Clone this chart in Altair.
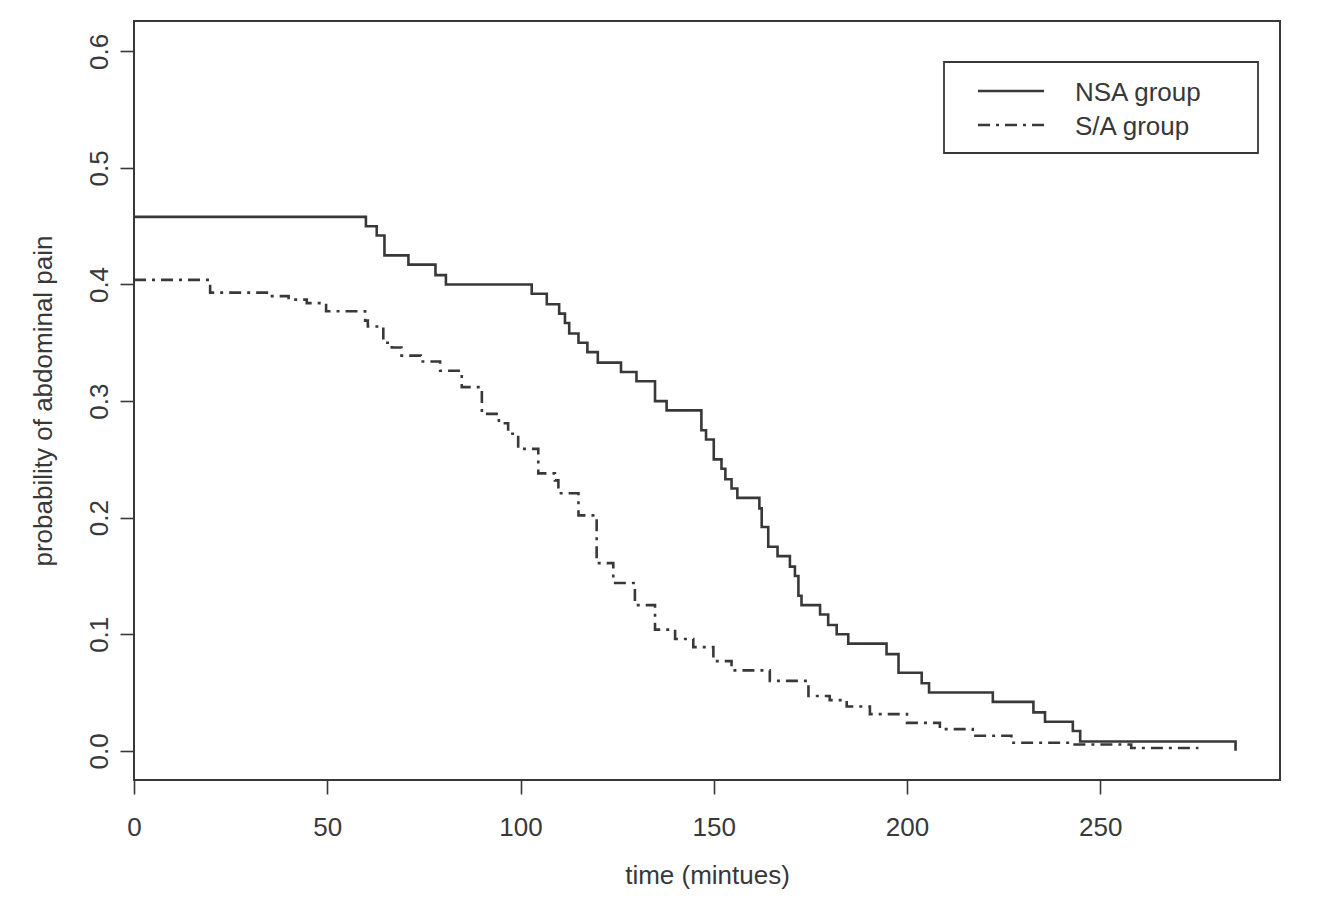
import altair as alt
import pandas as pd

groups = ["NSA group", "S/A group"]

nsa_time = [0, 60, 62.8, 64.8, 71, 78, 80.7, 102.9, 106.8, 110, 111.5, 112.6, 115, 117.3,
            120, 126, 130, 134.8, 137.8, 146.8, 148, 150, 152, 153, 154.6, 156.1, 161.8,
            162.4, 164.1, 166.5, 169.7, 171, 171.9, 172.7, 177.5, 179.6, 181.8, 184.8,
            194.7, 197.8, 203.8, 205.7, 222.2, 232.7, 235.7, 242.9, 244.8, 285]
nsa_prob = [0.458, 0.450, 0.442, 0.425, 0.417, 0.408, 0.400, 0.392, 0.383, 0.375, 0.367,
            0.358, 0.350, 0.342, 0.333, 0.325, 0.317, 0.300, 0.292, 0.275, 0.267, 0.250,
            0.242, 0.233, 0.225, 0.217, 0.208, 0.192, 0.175, 0.167, 0.158, 0.150, 0.133,
            0.125, 0.117, 0.108, 0.100, 0.092, 0.083, 0.067, 0.058, 0.050, 0.042, 0.033,
            0.025, 0.017, 0.008, 0.0]

sa_time = [0, 19.7, 34.8, 40, 44.7, 49.7, 59.8, 60.5, 64.5, 66.7, 69.2, 74.2, 79.2, 84.8,
           90, 94.4, 96.8, 99.4, 104.6, 108.9, 109.8, 115, 119.7, 124, 129.6, 134.8, 140,
           144.7, 149.9, 154.6, 164.5, 174.5, 180, 184.4, 190.4, 200, 208.5, 217, 227,
           243, 258, 275.4]
sa_prob = [0.404, 0.393, 0.390, 0.387, 0.384, 0.377, 0.369, 0.364, 0.350, 0.346, 0.339,
           0.334, 0.326, 0.312, 0.289, 0.281, 0.272, 0.259, 0.238, 0.232, 0.221, 0.202,
           0.161, 0.144, 0.125, 0.104, 0.096, 0.089, 0.077, 0.069, 0.060, 0.047, 0.0435,
           0.038, 0.0315, 0.024, 0.0186, 0.013, 0.007, 0.0055, 0.0025, 0.0025]

x_ticks = [0, 50, 100, 150, 200, 250]
y_ticks = [0.0, 0.1, 0.2, 0.3, 0.4, 0.5, 0.6]

df = pd.concat([
    pd.DataFrame({"time": nsa_time, "prob": nsa_prob, "group": groups[0], "order": range(len(nsa_time))}),
    pd.DataFrame({"time": sa_time, "prob": sa_prob, "group": groups[1], "order": range(len(sa_time))}),
])

FONT = "Liberation Sans"
INK = "#383838"
DASHES = [[1, 0], [12, 6, 3, 6]]

curves = alt.Chart(df).mark_line(
    interpolate="step-after", strokeWidth=2.6, color=INK
).encode(
    x=alt.X("time:Q", scale=alt.Scale(domain=[0, 296.5], nice=False, zero=False),
            axis=alt.Axis(values=x_ticks, title="time (mintues)", format="d",
                          labelFlush=False, labelPadding=20, titlePadding=22)),
    y=alt.Y("prob:Q", scale=alt.Scale(domain=[-0.025, 0.626], nice=False, zero=False),
            axis=alt.Axis(values=y_ticks, title="probability of abdominal pain", format=".1f",
                          labelAngle=270, labelAlign="center", labelBaseline="bottom",
                          labelFlush=False, labelPadding=8, titlePadding=30)),
    strokeDash=alt.StrokeDash("group:N",
                              scale=alt.Scale(domain=groups, range=DASHES),
                              legend=None),
    order="order:Q",
    detail="group:N",
)

# legend box (drawn in pixel space of the plot area)
legend_box = alt.Chart(pd.DataFrame({"group": [groups[0]]})).mark_rect(
    fill="white", stroke=INK, strokeWidth=1.8
).encode(
    x=alt.value(810), x2=alt.value(1124), y=alt.value(41), y2=alt.value(132)
)

legend_layers = [legend_box]
for i, g in enumerate(groups):
    gd = pd.DataFrame({"group": [g]})
    legend_layers.append(
        alt.Chart(gd).mark_rule(color=INK, strokeWidth=2.6, strokeDash=DASHES[i]).encode(
            x=alt.value(844), x2=alt.value(910), y=alt.value(70 + 34 * i)
        )
    )
    legend_layers.append(
        alt.Chart(gd).mark_text(align="left", baseline="middle", font=FONT, fontSize=26,
                                color=INK).encode(
            x=alt.value(941), y=alt.value(72 + 34 * i), text="group:N"
        )
    )

chart = alt.layer(curves, *legend_layers).properties(
    width=1146, height=759,
    autosize=alt.AutoSizeParams(type="none"),
    padding={"left": 126, "top": 13, "right": 35, "bottom": 110},
    background="white",
).configure_view(
    stroke=INK, strokeWidth=2
).configure_axis(
    domain=False, grid=False, ticks=True, tickSize=14, tickWidth=1.6, tickColor=INK,
    labelFont=FONT, labelFontSize=26, labelColor=INK,
    titleFont=FONT, titleFontSize=26, titleFontWeight="normal", titleColor=INK,
)

chart.save("out.html", embed_options={"renderer": "svg", "actions": False})
